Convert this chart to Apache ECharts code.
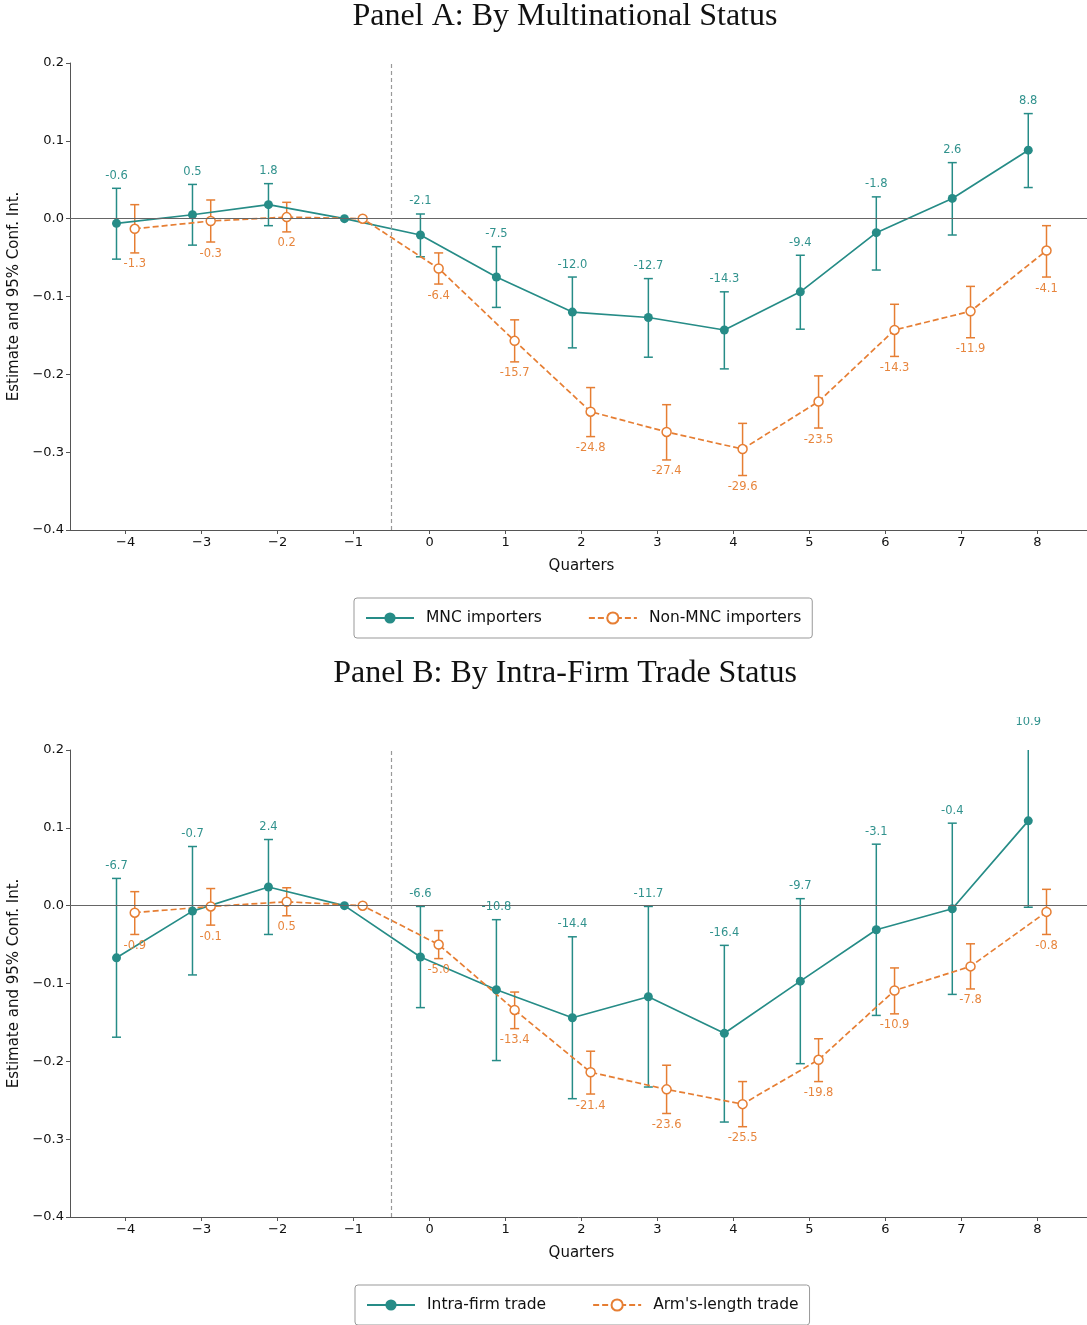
<!DOCTYPE html>
<html>
<head>
<meta charset="utf-8">
<title>Event study panels</title>
<script src="https://cdn.jsdelivr.net/npm/echarts@6/dist/echarts.min.js"></script>
<style>
  html, body { margin: 0; padding: 0; background: #fff; }
</style>
</head>
<body>
<div id="main" style="width:1087px;height:1325px;"></div>
<script type="text/javascript">
// quarters relative to the event
var quarters = [-4, -3, -2, -1, 0, 1, 2, 3, 4, 5, 6, 7, 8];

// Panel A: MNC vs non-MNC importers (estimate, lower and upper 95% bound)
var mncEst = [-0.006, 0.005, 0.018, 0, -0.021, -0.075, -0.120, -0.127, -0.143, -0.094, -0.018, 0.026, 0.088];
var mncLo  = [-0.052, -0.034, -0.009, null, -0.049, -0.114, -0.166, -0.178, -0.193, -0.142, -0.066, -0.021, 0.040];
var mncHi  = [0.039, 0.044, 0.045, null, 0.006, -0.036, -0.075, -0.077, -0.094, -0.047, 0.028, 0.072, 0.135];
var nonEst = [-0.013, -0.003, 0.002, 0, -0.064, -0.157, -0.248, -0.274, -0.296, -0.235, -0.143, -0.119, -0.041];
var nonLo  = [-0.044, -0.030, -0.017, null, -0.084, -0.184, -0.280, -0.310, -0.330, -0.269, -0.177, -0.153, -0.075];
var nonHi  = [0.018, 0.024, 0.021, null, -0.044, -0.130, -0.217, -0.239, -0.263, -0.202, -0.110, -0.087, -0.009];

// Panel B: intra-firm vs arm's-length trade
var intraEst = [-0.067, -0.007, 0.024, 0, -0.066, -0.108, -0.144, -0.117, -0.164, -0.097, -0.031, -0.004, 0.109];
var intraLo  = [-0.169, -0.089, -0.037, null, -0.131, -0.199, -0.248, -0.233, -0.278, -0.203, -0.141, -0.114, -0.002];
var intraHi  = [0.035, 0.076, 0.085, null, -0.001, -0.018, -0.040, -0.001, -0.051, 0.009, 0.079, 0.106, 0.220];
var armEst = [-0.009, -0.001, 0.005, 0, -0.050, -0.134, -0.214, -0.236, -0.255, -0.198, -0.109, -0.078, -0.008];
var armLo  = [-0.037, -0.025, -0.013, null, -0.068, -0.158, -0.242, -0.267, -0.284, -0.226, -0.139, -0.107, -0.037];
var armHi  = [0.018, 0.022, 0.023, null, -0.032, -0.111, -0.187, -0.205, -0.226, -0.171, -0.080, -0.049, 0.021];

var yTicks = [-0.4, -0.3, -0.2, -0.1, 0.0, 0.1, 0.2];

var TEAL = '#268c87';
var ORANGE = '#e67e33';
var FONT = 'DejaVu Sans';
var OFF = 0.12;

var myChart = echarts.init(document.getElementById('main'), null, { renderer: 'canvas' });

function pts(est, shift) {
    return quarters.map(function (q, i) { return [q + shift, est[i]]; });
}
function bars(est, lo, hi, shift) {
    var out = [];
    quarters.forEach(function (q, i) {
        if (lo[i] === null) return;
        out.push([q + shift, lo[i], hi[i], est[i]]);
    });
    return out;
}

// vertical whisker with caps, clipped to the plot box
function errRender(color) {
    return function (params, api) {
        var x = api.value(0);
        var pHi = api.coord([x, api.value(2)]);
        var pLo = api.coord([x, api.value(1)]);
        var top = params.coordSys.y;
        var y1 = Math.max(pHi[1], top);
        var kids = [{
            type: 'line',
            shape: { x1: pHi[0], y1: y1, x2: pLo[0], y2: pLo[1] },
            style: { stroke: color, lineWidth: 1.5 }
        }, {
            type: 'line',
            shape: { x1: pLo[0] - 4.5, y1: pLo[1], x2: pLo[0] + 4.5, y2: pLo[1] },
            style: { stroke: color, lineWidth: 1.5 }
        }];
        if (pHi[1] >= top) {
            kids.push({
                type: 'line',
                shape: { x1: pHi[0] - 4.5, y1: pHi[1], x2: pHi[0] + 4.5, y2: pHi[1] },
                style: { stroke: color, lineWidth: 1.5 }
            });
        }
        return { type: 'group', children: kids };
    };
}

// value labels (percent) above teal caps, below orange caps
function labelRender(color, above) {
    return function (params, api) {
        var x = api.value(0);
        var cap = above ? api.value(2) : api.value(1);
        var p = api.coord([x, cap]);
        var txt = (api.value(3) * 100).toFixed(1);
        return {
            type: 'text',
            x: p[0],
            y: above ? p[1] - 12.5 : p[1] + 11.5,
            style: {
                text: txt, fill: color, font: '11.5px "' + FONT + '"',
                align: 'center', verticalAlign: 'middle', opacity: 0.95
            }
        };
    };
}

function panelSeries(idx, names, tEst, tLo, tHi, oEst, oLo, oHi) {
    return [{
        name: 'err-t' + idx, type: 'custom', xAxisIndex: idx, yAxisIndex: idx,
        renderItem: errRender(TEAL), data: bars(tEst, tLo, tHi, -OFF), z: 3, silent: true,
        markLine: {
            silent: true, symbol: 'none', animation: false,
            label: { show: false },
            data: [
                { yAxis: 0, lineStyle: { color: '#666', width: 1.2, type: 'solid' } },
                { xAxis: -0.5, lineStyle: { color: '#999', width: 1.2, type: [4, 3] } }
            ]
        }
    }, {
        name: 'err-o' + idx, type: 'custom', xAxisIndex: idx, yAxisIndex: idx,
        renderItem: errRender(ORANGE), data: bars(oEst, oLo, oHi, OFF), z: 3, silent: true
    }, {
        name: names[0], type: 'line', xAxisIndex: idx, yAxisIndex: idx,
        data: pts(tEst, -OFF), symbol: 'circle', symbolSize: 9,
        lineStyle: { color: TEAL, width: 1.7 },
        itemStyle: { color: TEAL, borderWidth: 0 }, z: 4
    }, {
        name: names[1], type: 'line', xAxisIndex: idx, yAxisIndex: idx,
        data: pts(oEst, OFF), symbol: 'circle', symbolSize: 9,
        lineStyle: { color: ORANGE, width: 1.7, type: [6, 3] },
        itemStyle: { color: '#fff', borderColor: ORANGE, borderWidth: 1.5 }, z: 4
    }, {
        name: 'lab-t' + idx, type: 'custom', xAxisIndex: idx, yAxisIndex: idx,
        renderItem: labelRender(TEAL, true), data: bars(tEst, tLo, tHi, -OFF), z: 5, silent: true
    }, {
        name: 'lab-o' + idx, type: 'custom', xAxisIndex: idx, yAxisIndex: idx,
        renderItem: labelRender(ORANGE, false), data: bars(oEst, oLo, oHi, OFF), z: 5, silent: true
    }];
}

function xAx(idx) {
    return {
        type: 'value', gridIndex: idx, min: -4.732, max: 8.732,
        name: 'Quarters', nameLocation: 'middle', nameGap: 29,
        nameTextStyle: { fontFamily: FONT, fontSize: 15, color: '#111' },
        axisLine: { show: true, onZero: false, lineStyle: { color: '#555', width: 1 } },
        axisTick: { show: true, length: 4, lineStyle: { color: '#555' }, customValues: quarters },
        axisLabel: {
            fontFamily: FONT, fontSize: 13, color: '#111', margin: 6, customValues: quarters,
            formatter: function (v) { return v < 0 ? '\u2212' + Math.abs(v) : String(v); }
        },
        splitLine: { show: false }
    };
}
function yAx(idx) {
    return {
        type: 'value', gridIndex: idx, min: -0.4, max: 0.2,
        name: 'Estimate and 95% Conf. Int.', nameLocation: 'middle', nameGap: 47,
        nameTextStyle: { fontFamily: FONT, fontSize: 15, color: '#111' },
        axisLine: { show: true, onZero: false, lineStyle: { color: '#555', width: 1 } },
        axisTick: { show: true, length: 4, lineStyle: { color: '#555' }, customValues: yTicks },
        axisLabel: {
            fontFamily: FONT, fontSize: 13, color: '#111', margin: 6, customValues: yTicks,
            formatter: function (v) {
                var s = Math.abs(v).toFixed(1);
                return (v < -1e-9 ? '\u2212' : '') + s;
            }
        },
        splitLine: { show: false }
    };
}

function legendBox(top, left, names) {
    return {
        data: names, top: top, left: left, orient: 'horizontal',
        padding: [12, 11, 12, 11], itemGap: 46, itemWidth: 48, itemHeight: 14,
        borderColor: '#999', borderWidth: 1, borderRadius: 3,
        textStyle: { fontFamily: FONT, fontSize: 15.5, color: '#111', padding: [0, 0, 0, 7] },
        selectedMode: false
    };
}

var option = {
    animation: false,
    backgroundColor: '#fff',
    grid: [
        { left: 70, top: 63, width: 1023, height: 467, outerBoundsMode: 'none', containLabel: false },
        { left: 70, top: 750, width: 1023, height: 467, outerBoundsMode: 'none', containLabel: false }
    ],
    xAxis: [xAx(0), xAx(1)],
    yAxis: [yAx(0), yAx(1)],
    legend: [
        legendBox(598, 354, ['MNC importers', 'Non-MNC importers']),
        legendBox(1285, 355, ['Intra-firm trade', "Arm's-length trade"])
    ],
    graphic: [
        { type: 'text', x: 565, y: 17, z: 100,
          style: { text: 'Panel A: By Multinational Status', font: '32px "Liberation Serif"', fill: '#111', align: 'center', verticalAlign: 'middle' } },
        { type: 'text', x: 565, y: 674, z: 100,
          style: { text: 'Panel B: By Intra-Firm Trade Status', font: '32px "Liberation Serif"', fill: '#111', align: 'center', verticalAlign: 'middle' } },
        // the top of the last label is cut off in the source figure
        { type: 'rect', z: 100, shape: { x: 990, y: 696, width: 80, height: 21 }, style: { fill: '#fff' } }
    ],
    series: [].concat(
        panelSeries(0, ['MNC importers', 'Non-MNC importers'], mncEst, mncLo, mncHi, nonEst, nonLo, nonHi),
        panelSeries(1, ['Intra-firm trade', "Arm's-length trade"], intraEst, intraLo, intraHi, armEst, armLo, armHi)
    )
};

myChart.setOption(option);
</script>
</body>
</html>
